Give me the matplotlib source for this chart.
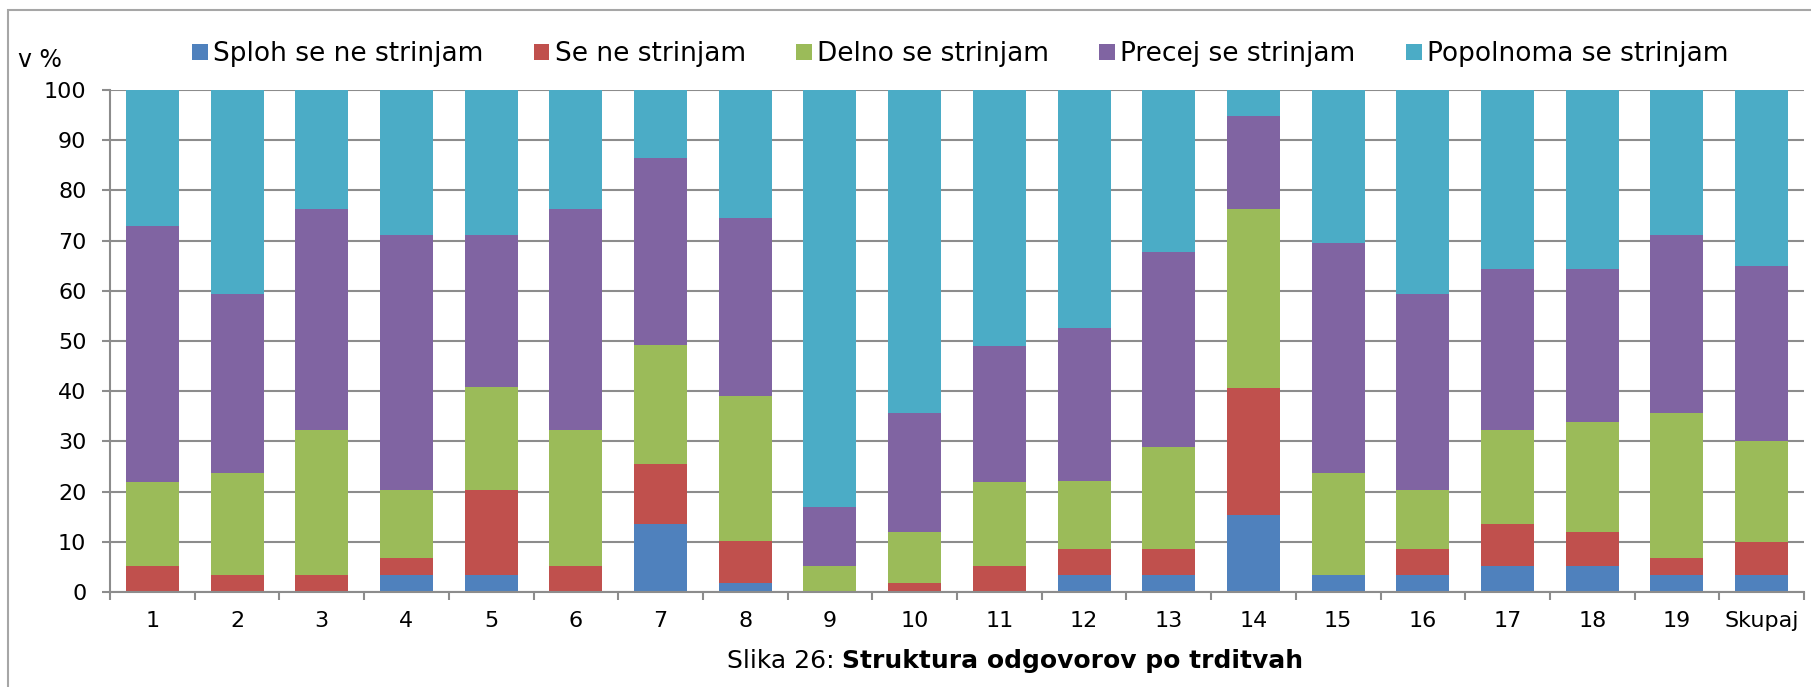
import numpy as np
import matplotlib
matplotlib.use('Agg')
from matplotlib import pyplot as plt
from matplotlib.patches import Rectangle

cats = [str(i) for i in range(1, 20)] + ['Skupaj']
series = ['Sploh se ne strinjam', 'Se ne strinjam', 'Delno se strinjam',
          'Precej se strinjam', 'Popolnoma se strinjam']
colors = ['#4F81BD', '#C0504D', '#9BBB59', '#8064A2', '#4BACC6']

sploh = [0, 0, 0, 3.4, 3.4, 0, 13.6, 1.7, 0, 0, 0, 3.4, 3.4, 15.3, 3.4, 3.4, 5.1, 5.1, 3.4, 3.4]
se_ne = [5.1, 3.4, 3.4, 3.4, 16.9, 5.1, 11.9, 8.5, 0, 1.7, 5.1, 5.1, 5.1, 25.4, 0, 5.1, 8.5, 6.8, 3.4, 6.6]
delno = [16.9, 20.3, 28.8, 13.5, 20.5, 27.1, 23.7, 28.8, 5.1, 10.2, 16.9, 13.6, 20.3, 35.6, 20.3, 11.9, 18.6, 22.0, 28.8, 20.1]
precej = [50.9, 35.6, 44.1, 50.8, 30.3, 44.1, 37.3, 35.6, 11.9, 23.7, 27.1, 30.5, 39.0, 18.6, 45.8, 39.0, 32.2, 30.5, 35.6, 34.9]
popolnoma = [27.1, 40.7, 23.7, 28.9, 28.9, 23.7, 13.5, 25.4, 83.0, 64.4, 50.9, 47.4, 32.2, 5.1, 30.5, 40.6, 35.6, 35.6, 28.8, 35.0]

W, H = 1811, 687
fig = plt.figure(figsize=(W / 100, H / 100), dpi=100)
ax = fig.add_axes([110 / W, 1 - 592 / H, 1694 / W, 502 / H])

x = np.arange(len(cats))
bottom = np.zeros(len(cats))
handles = []
for vals, name, col in zip([sploh, se_ne, delno, precej, popolnoma], series, colors):
    b = ax.bar(x, vals, 0.625, bottom=bottom, color=col, label=name, zorder=2)
    handles.append(b)
    bottom += np.array(vals)

grey = '#8c8c8c'
ax.set_xlim(-0.5, len(cats) - 0.5)
ax.set_ylim(0, 100)
ax.set_yticks(np.arange(0, 101, 10))
ax.yaxis.grid(True, color=grey, lw=1.5)
ax.set_axisbelow(True)
for s in ['top', 'right']:
    ax.spines[s].set_visible(False)
for s in ['left', 'bottom']:
    ax.spines[s].set_color(grey)
    ax.spines[s].set_linewidth(1.5)

ax.set_xticks(x)
ax.set_xticklabels(cats)
ax.set_xticks(np.arange(-0.5, len(cats), 1), minor=True)
ax.tick_params(axis='x', which='major', length=0, pad=14, labelsize=16)
ax.tick_params(axis='x', which='minor', length=6, width=1.5, color=grey)
ax.tick_params(axis='y', length=6, width=1.5, color=grey, pad=11, labelsize=16)

fig.text(18 / W, 1 - 67 / H, 'v %', fontsize=17, va='baseline')

fig.legend(handles=handles, loc='center left', bbox_to_anchor=(192 / W, 1 - 54 / H),
           ncol=5, frameon=False, fontsize=19, borderpad=0, borderaxespad=0,
           handlelength=0.6, handleheight=0.55, handletextpad=0.2, columnspacing=1.9)

# caption: regular part, then bold part right after it
t1 = fig.text(727 / W, 1 - 668 / H, 'Slika 26: ', fontsize=18, va='baseline')
fig.canvas.draw()
bb = t1.get_window_extent()
fig.text(bb.x1 / W, 1 - 668 / H, 'Struktura odgovorov po trditvah', fontsize=18,
         fontweight='bold', va='baseline')

fig.patches.append(Rectangle((8 / W, -0.1), 1.2, 1 - 10 / H + 0.1, transform=fig.transFigure,
                             fill=False, edgecolor='#a6a6a6', lw=1.5))

fig.savefig('out.png', dpi=100)
